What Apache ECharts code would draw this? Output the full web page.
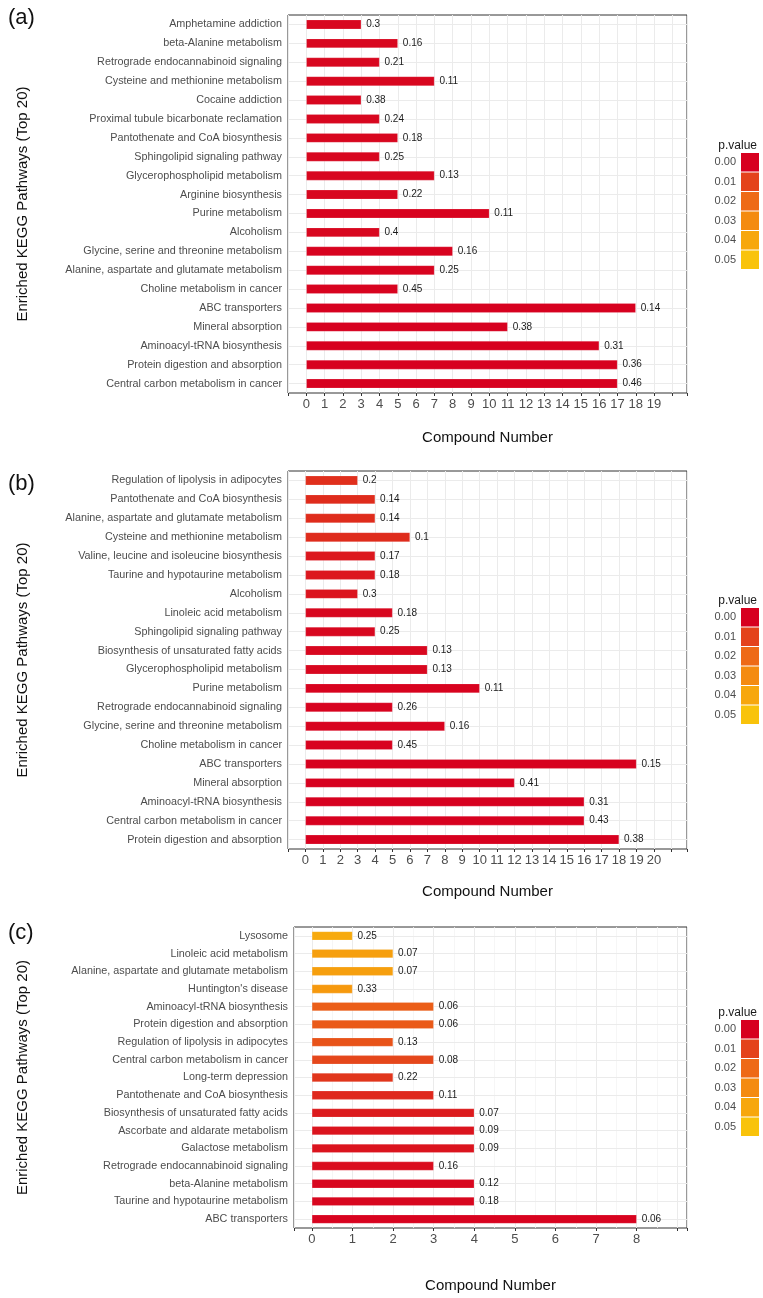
<!DOCTYPE html>
<html>
<head>
<meta charset="utf-8">
<script src="https://cdn.jsdelivr.net/npm/echarts@6/dist/echarts.min.js"></script>
<style>html,body{margin:0;padding:0;background:#fff}#c{width:763px;height:1298px}</style>
</head>
<body>
<div id="c"></div>
<script>
// ---------- Panel (a) ----------
const catsA = ["Amphetamine addiction","beta-Alanine metabolism","Retrograde endocannabinoid signaling","Cysteine and methionine metabolism","Cocaine addiction","Proximal tubule bicarbonate reclamation","Pantothenate and CoA biosynthesis","Sphingolipid signaling pathway","Glycerophospholipid metabolism","Arginine biosynthesis","Purine metabolism","Alcoholism","Glycine, serine and threonine metabolism","Alanine, aspartate and glutamate metabolism","Choline metabolism in cancer","ABC transporters","Mineral absorption","Aminoacyl-tRNA biosynthesis","Protein digestion and absorption","Central carbon metabolism in cancer"];
const countsA = [3,5,4,7,3,4,5,4,7,5,10,4,8,7,5,18,11,16,17,17];
const labelsA = ["0.3","0.16","0.21","0.11","0.38","0.24","0.18","0.25","0.13","0.22","0.11","0.4","0.16","0.25","0.45","0.14","0.38","0.31","0.36","0.46"];
const pvalA = [0.001,0.001,0.001,0.001,0.001,0.001,0.001,0.001,0.001,0.001,0.0005,0.001,0.0005,0.0005,0.0005,0.0001,0.0001,0.0001,0.0001,0.0001];
const ticksA = [0,1,2,3,4,5,6,7,8,9,10,11,12,13,14,15,16,17,18,19];

// ---------- Panel (b) ----------
const catsB = ["Regulation of lipolysis in adipocytes","Pantothenate and CoA biosynthesis","Alanine, aspartate and glutamate metabolism","Cysteine and methionine metabolism","Valine, leucine and isoleucine biosynthesis","Taurine and hypotaurine metabolism","Alcoholism","Linoleic acid metabolism","Sphingolipid signaling pathway","Biosynthesis of unsaturated fatty acids","Glycerophospholipid metabolism","Purine metabolism","Retrograde endocannabinoid signaling","Glycine, serine and threonine metabolism","Choline metabolism in cancer","ABC transporters","Mineral absorption","Aminoacyl-tRNA biosynthesis","Central carbon metabolism in cancer","Protein digestion and absorption"];
const countsB = [3,4,4,6,4,4,3,5,4,7,7,10,5,8,5,19,12,16,16,18];
const labelsB = ["0.2","0.14","0.14","0.1","0.17","0.18","0.3","0.18","0.25","0.13","0.13","0.11","0.26","0.16","0.45","0.15","0.41","0.31","0.43","0.38"];
const pvalB = [0.007,0.0065,0.0065,0.0065,0.0035,0.0035,0.003,0.001,0.001,0.001,0.001,0.0005,0.0005,0.0005,0.0005,0.0001,0.0001,0.0001,0.0001,0.0001];
const ticksB = [0,1,2,3,4,5,6,7,8,9,10,11,12,13,14,15,16,17,18,19,20];

// ---------- Panel (c) ----------
const catsC = ["Lysosome","Linoleic acid metabolism","Alanine, aspartate and glutamate metabolism","Huntington's disease","Aminoacyl-tRNA biosynthesis","Protein digestion and absorption","Regulation of lipolysis in adipocytes","Central carbon metabolism in cancer","Long-term depression","Pantothenate and CoA biosynthesis","Biosynthesis of unsaturated fatty acids","Ascorbate and aldarate metabolism","Galactose metabolism","Retrograde endocannabinoid signaling","beta-Alanine metabolism","Taurine and hypotaurine metabolism","ABC transporters"];
const countsC = [1,2,2,1,3,3,2,3,2,3,4,4,4,3,4,4,8];
const labelsC = ["0.25","0.07","0.07","0.33","0.06","0.06","0.13","0.08","0.22","0.11","0.07","0.09","0.09","0.16","0.12","0.18","0.06"];
const pvalC = [0.041,0.037,0.037,0.035,0.017,0.016,0.014,0.011,0.008,0.006,0.004,0.003,0.003,0.002,0.001,0.001,0.0005];
const ticksC = [0,1,2,3,4,5,6,7,8];

// ---------- Legend ----------
const legendLabels = ["0.00","0.01","0.02","0.03","0.04","0.05"];
const legendValues = [0,0.01,0.02,0.03,0.04,0.05];
const gradColors = ["#D7001F","#E4431B","#EE6A16","#F48B10","#F7A70D","#F9C30B"];

const FONT = "'Liberation Sans', Arial, sans-serif";
const chart = echarts.init(document.getElementById('c'), null, {renderer:'canvas'});

const panels = [
  {cats:catsA, counts:countsA, labels:labelsA, p:pvalA, ticks:ticksA, grid:{left:288, top:15, width:399, height:378}, min:-1, max:20.8, nameGap:37, yGap:258, legendTop:153, titleTop:2, tag:'(a)'},
  {cats:catsB, counts:countsB, labels:labelsB, p:pvalB, ticks:ticksB, grid:{left:288, top:471, width:399, height:378}, min:-1, max:21.9, nameGap:35, yGap:258, legendTop:608, titleTop:468, tag:'(b)'},
  {cats:catsC, counts:countsC, labels:labelsC, p:pvalC, ticks:ticksC, grid:{left:294, top:927, width:393, height:301}, min:-0.44, max:9.24, nameGap:50, yGap:264, legendTop:1020, titleTop:917, tag:'(c)'}
];

const grids = [], xAxes = [], yAxes = [], series = [], titles = [], visualMaps = [];
const barSeriesIdx = [];
panels.forEach((P, i) => {
  grids.push(Object.assign({show:true, borderColor:'#333333', borderWidth:1, backgroundColor:'transparent', containLabel:false}, P.grid));
  const xa = {
    type:'value', gridIndex:i, min:P.min, max:P.max,
    name:'Compound Number', nameLocation:'middle', nameGap:P.nameGap,
    nameTextStyle:{fontFamily:FONT, fontSize:15, color:'#111'},
    axisLine:{show:false},
    axisTick:{show:true, length:3, lineStyle:{color:'#333', width:1}},
    axisLabel:{fontFamily:FONT, fontSize:13, color:'#4D4D4D', margin:5,
      formatter: v => (P.ticks.indexOf(Math.round(v*1000)/1000) >= 0 ? String(Math.round(v)) : '')},
    splitLine:{show:true, lineStyle:{color:'#EBEBEB', width:1}}
  };
  if (i === 2) {
    xa.splitNumber = 10; xa.minInterval = 1; xa.maxInterval = 1;
    xa.minorTick = {show:false, splitNumber:2};
    xa.minorSplitLine = {show:true, lineStyle:{color:'#F4F4F4', width:0.8}};
  } else {
    xa.interval = 1;
  }
  xAxes.push(xa);
  yAxes.push({
    type:'category', gridIndex:i, data:P.cats, inverse:true,
    name:'Enriched KEGG Pathways (Top 20)', nameLocation:'middle', nameRotate:90, nameGap:P.yGap,
    nameTextStyle:{fontFamily:FONT, fontSize:15, color:'#111'},
    axisLine:{show:false},
    axisTick:{show:true, alignWithLabel:true, length:3, lineStyle:{color:'#333'}},
    axisLabel:{fontFamily:FONT, fontSize:10.8, color:'#4D4D4D', margin:6},
    splitLine:{show:false}
  });
  // gridline carrier (horizontal major grid lines through category centres)
  series.push({
    type:'line', xAxisIndex:i, yAxisIndex:i, data:[], z:1, silent:true,
    markLine:{silent:true, z:1, symbol:['none','none'], animation:false, label:{show:false},
      lineStyle:{color:'#EBEBEB', width:1, type:'solid'},
      emphasis:{disabled:true},
      data:P.cats.map(c => ({yAxis:c}))}
  });
  const carrierIdx = series.length - 1;
  series.push({
    type:'bar', xAxisIndex:i, yAxisIndex:i, z:3, barWidth:'50%',
    encode:{x:0, y:1},
    data:P.cats.map((c, k) => [P.counts[k], c, P.p[k], P.labels[k]]),
    label:{show:true, position:'right', distance:5, fontFamily:FONT, fontSize:10, color:'#1a1a1a',
      formatter: params => params.value[3]},
    itemStyle:{borderColor:'rgba(255,255,255,0.35)', borderWidth:0.5},
    animation:false
  });
  barSeriesIdx.push(series.length - 1);
  titles.push({text:P.tag, left:3, top:P.titleTop, textStyle:{fontFamily:FONT, fontSize:22, fontWeight:'normal', color:'#111'}});
  titles.push({text:'p.value', right:1, top:P.legendTop-18, textStyle:{fontFamily:FONT, fontSize:12, fontWeight:'normal', color:'#1a1a1a'}});
  visualMaps.push({
    type:'piecewise', seriesIndex:carrierIdx, right:-11, top:P.legendTop-15, orient:'vertical', inverse:true,
    align:'right', itemWidth:18, itemHeight:18.5, itemGap:1, textGap:5, itemSymbol:'rect',
    selectedMode:false, hoverLink:false,
    textStyle:{fontFamily:FONT, fontSize:11, color:'#4D4D4D'},
    pieces: legendValues.map((v, k) => ({value:v, label:legendLabels[k], color:gradColors[k]}))
  });
});
visualMaps.push({
  type:'continuous', show:false, seriesIndex:barSeriesIdx, dimension:2, min:0, max:0.05,
  inRange:{color:gradColors}
});

chart.setOption({
  backgroundColor:'#ffffff',
  animation:false,
  title:titles,
  grid:grids,
  xAxis:xAxes,
  yAxis:yAxes,
  visualMap:visualMaps,
  series:series
});
</script>
</body>
</html>
